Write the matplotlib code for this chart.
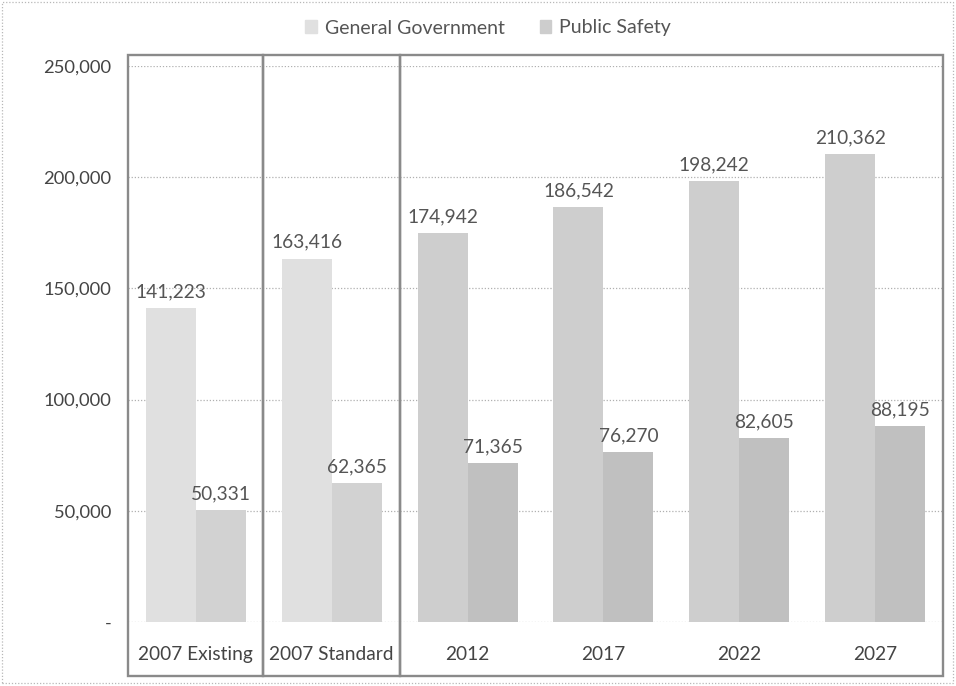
import matplotlib
matplotlib.use("Agg")
import matplotlib.pyplot as plt
from matplotlib.patches import Rectangle
import numpy as np

plt.rcParams['font.family'] = ['Lato', 'DejaVu Sans']

categories = ["2007 Existing", "2007 Standard", "2012", "2017", "2022", "2027"]
general_government = [141223, 163416, 174942, 186542, 198242, 210362]
public_safety = [50331, 62365, 71365, 76270, 82605, 88195]
y_ticks = [0, 50000, 100000, 150000, 200000, 250000]
y_tick_labels = ["-", "50,000", "100,000", "150,000", "200,000", "250,000"]

# Existing / standard columns are shaded lighter than the projections
gg_colors = ["#e0e0e0", "#e0e0e0", "#cecece", "#cecece", "#cecece", "#cecece"]
ps_colors = ["#d2d2d2", "#d2d2d2", "#c0c0c0", "#c0c0c0", "#c0c0c0", "#c0c0c0"]

W, H = 956, 686
fig = plt.figure(figsize=(W / 100, H / 100), dpi=100)

def fx(px):
    return px / W

def fy(py):
    return 1 - py / H

ax = fig.add_axes([fx(128), fy(622), fx(943) - fx(128), fy(66) - fy(622)])

x = np.arange(len(categories))
bw = 0.368
ax.bar(x - bw / 2, general_government, width=bw, color=gg_colors, zorder=2)
ax.bar(x + bw / 2, public_safety, width=bw, color=ps_colors, zorder=2)

for xi, v in zip(x, general_government):
    ax.text(xi - bw / 2, v + 3500, f"{v:,}", ha="center", va="bottom",
            fontsize=13.8, color="#555555")
for xi, v in zip(x, public_safety):
    ax.text(xi + bw / 2, v + 3500, f"{v:,}", ha="center", va="bottom",
            fontsize=13.8, color="#555555")

ax.set_xlim(-0.5, len(categories) - 0.5)
ax.set_ylim(0, 250000)
ax.set_yticks(y_ticks)
ax.set_yticklabels(y_tick_labels, fontsize=13.2, color="#444444")
ax.set_xticks(x)
ax.set_xticklabels(categories, fontsize=13.8, color="#444444")
ax.tick_params(axis="both", length=0)
ax.tick_params(axis="y", pad=12)
ax.tick_params(axis="x", pad=17)
ax.yaxis.grid(True, linestyle=(0, (1, 1.5)), color="#b0b0b0", linewidth=0.9, zorder=0)
ax.set_axisbelow(True)
for s in ax.spines.values():
    s.set_visible(False)

# Group frames around the existing, standard and projected columns
frame_kw = dict(fill=False, edgecolor="#8a8a8a", linewidth=1.7,
                transform=fig.transFigure, zorder=5)
for x0, x1 in [(128, 263), (263, 400), (400, 943)]:
    fig.patches.append(Rectangle((fx(x0), fy(676)), fx(x1) - fx(x0), fy(55) - fy(676), **frame_kw))

# Dotted outer border
fig.patches.append(Rectangle((fx(2), fy(683)), fx(953) - fx(2), fy(2) - fy(683),
                             fill=False, edgecolor="#b8b8b8", linewidth=0.9,
                             linestyle=(0, (1, 1.5)), transform=fig.transFigure))

handles = [Rectangle((0, 0), 1, 1, color="#e0e0e0"),
           Rectangle((0, 0), 1, 1, color="#cdcdcd")]
fig.legend(handles, ["General Government", "Public Safety"], loc="center",
           bbox_to_anchor=(fx(488), fy(28)), ncol=2, frameon=False,
           fontsize=14, labelcolor="#555555", handlelength=0.6,
           handleheight=0.6, handletextpad=0.4, columnspacing=1.8)

fig.savefig("out.png", dpi=100)
